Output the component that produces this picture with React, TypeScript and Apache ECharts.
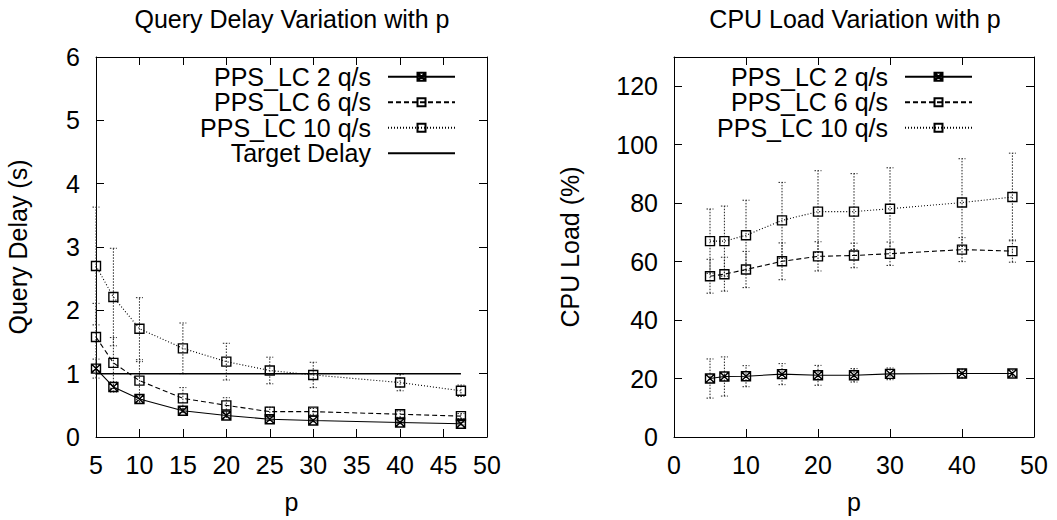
import React, { useEffect, useRef } from "react";
import * as echarts from "echarts";

const pValues = [5, 7, 10, 15, 20, 25, 30, 40, 47];

const delay2 = [1.08, 0.79, 0.6, 0.415, 0.34, 0.28, 0.26, 0.23, 0.21];
const delay2Err = [0.15, 0.08, 0.05, 0.03, 0.03, 0.02, 0.02, 0.02, 0.02];
const delay6 = [1.58, 1.17, 0.89, 0.61, 0.5, 0.4, 0.4, 0.36, 0.33];
const delay6Err = [0.53, 0.4, 0.3, 0.17, 0.12, 0.07, 0.05, 0.05, 0.04];
const delay10 = [2.7, 2.21, 1.71, 1.4, 1.19, 1.05, 0.98, 0.86, 0.73];
const delay10Err = [0.93, 0.77, 0.49, 0.4, 0.29, 0.21, 0.2, 0.13, 0.09];
const targetDelay = [
  [5, 1],
  [47, 1],
];

const cpu2 = [20.0, 20.7, 20.8, 21.5, 21.1, 21.1, 21.6, 21.7, 21.7];
const cpu2Err = [6.7, 6.7, 3.6, 3.6, 3.4, 2.3, 2.0, 1.5, 1.0];
const cpu6 = [55.0, 55.7, 57.3, 60.1, 61.8, 62.1, 62.7, 64.1, 63.6];
const cpu6Err = [5.8, 5.8, 6.2, 6.3, 5.0, 4.2, 4.0, 4.1, 3.8];
const cpu10 = [67, 67, 69, 74.1, 77.1, 77.1, 78.1, 80.2, 82.1];
const cpu10Err = [11, 12, 12, 13, 14, 13, 14, 15, 15];

const names = ["PPS_LC 2 q/s", "PPS_LC 6 q/s", "PPS_LC 10 q/s", "Target Delay"];

const FONT = "'Liberation Sans', Arial, Helvetica, sans-serif";
const FS = 25;

const pts = (ys: number[]) => pValues.map((x, i) => [x, ys[i]]);
const errs = (ys: number[], es: number[]) => pValues.map((x, i) => [x, ys[i] - es[i], ys[i] + es[i]]);

const squareX = "path://M0 0H10V10H0Z M0 0L10 10 M10 0L0 10";

function errSeries(data: number[][], xi: number, yi: number, name: string) {
  return {
    type: "custom",
    name,
    xAxisIndex: xi,
    yAxisIndex: yi,
    encode: { x: 0, y: [1, 2] },
    z: 1,
    silent: true,
    data,
    renderItem: (params: any, api: any) => {
      const x = api.value(0);
      const lo = api.coord([x, api.value(1)]);
      const hi = api.coord([x, api.value(2)]);
      const cap = 3.5;
      const style = { stroke: "#222", lineWidth: 1, lineDash: [1.5, 1.5], fill: "none" };
      return {
        type: "group",
        children: [
          { type: "line", shape: { x1: lo[0], y1: lo[1], x2: hi[0], y2: hi[1] }, style },
          { type: "line", shape: { x1: lo[0] - cap, y1: lo[1], x2: lo[0] + cap, y2: lo[1] }, style },
          { type: "line", shape: { x1: hi[0] - cap, y1: hi[1], x2: hi[0] + cap, y2: hi[1] }, style },
        ],
      };
    },
  };
}

function lineSeries(name: string, data: number[][], xi: number, yi: number, dash: any, symbol: string) {
  return {
    type: "line",
    name,
    xAxisIndex: xi,
    yAxisIndex: yi,
    data,
    z: 3,
    symbol,
    symbolSize: 9,
    lineStyle: { color: "#000", width: 1.1, type: dash },
    itemStyle: { color: "rgba(0,0,0,0)", borderColor: "#000", borderWidth: 1.4 },
  };
}

const tickStyle = { show: true, inside: true, length: 8, lineStyle: { color: "#000", width: 1 } };
const lineAxis = { show: true, onZero: false, lineStyle: { color: "#000", width: 1 } };
const labelStyle = { color: "#000", fontSize: FS, fontFamily: FONT };

function xAxes(gi: number, min: number, max: number, interval: number) {
  return [
    {
      type: "value",
      gridIndex: gi,
      min,
      max,
      interval,
      position: "bottom",
      axisLine: lineAxis,
      axisTick: tickStyle,
      splitLine: { show: false },
      axisLabel: { ...labelStyle, margin: 15 },
      name: "p",
      nameLocation: "middle",
      nameGap: 52,
      nameTextStyle: { color: "#000", fontSize: FS, fontFamily: FONT },
    },
    {
      type: "value",
      gridIndex: gi,
      min,
      max,
      interval,
      position: "top",
      axisLine: lineAxis,
      axisTick: tickStyle,
      splitLine: { show: false },
      axisLabel: { show: false },
    },
  ];
}

function yAxes(gi: number, min: number, max: number, interval: number, name: string, nameGap: number) {
  return [
    {
      type: "value",
      gridIndex: gi,
      min,
      max,
      interval,
      position: "left",
      axisLine: lineAxis,
      axisTick: tickStyle,
      splitLine: { show: false },
      axisLabel: { ...labelStyle, margin: 16, showMaxLabel: max % interval === 0 },
      name,
      nameLocation: "middle",
      nameGap,
      nameRotate: 90,
      nameTextStyle: { color: "#000", fontSize: FS, fontFamily: FONT },
    },
    {
      type: "value",
      gridIndex: gi,
      min,
      max,
      interval,
      position: "right",
      axisLine: lineAxis,
      axisTick: tickStyle,
      splitLine: { show: false },
      axisLabel: { show: false },
    },
  ];
}

function legendCfg(right: number, data: string[]) {
  return {
    orient: "vertical",
    align: "right",
    right,
    top: 64,
    padding: 0,
    itemGap: 0,
    itemWidth: 67,
    itemHeight: 10,
    selectedMode: false,
    data,
    textStyle: { color: "#000", fontSize: FS, fontFamily: FONT, lineHeight: 25.5, padding: [0, 12, 0, 0] },
  };
}

export default function App() {
  const ref = useRef<HTMLDivElement>(null);
  useEffect(() => {
    if (!ref.current) return;
    const chart = echarts.init(ref.current, null, { renderer: "svg" });
    chart.setOption({
      animation: false,
      backgroundColor: "#fff",
      title: [
        {
          text: "Query Delay Variation with p",
          left: 292,
          top: 6,
          padding: 0,
          textAlign: "center",
          textStyle: { color: "#000", fontSize: FS, fontWeight: "normal", fontFamily: FONT },
        },
        {
          text: "CPU Load Variation with p",
          left: 855,
          top: 6,
          padding: 0,
          textAlign: "center",
          textStyle: { color: "#000", fontSize: FS, fontWeight: "normal", fontFamily: FONT },
        },
      ],
      legend: [legendCfg(601, names), legendCfg(84, names.slice(0, 3))],
      grid: [
        { left: 96, right: 570, top: 57, bottom: 83, show: false },
        { left: 674, right: 23, top: 57, bottom: 83, show: false },
      ],
      xAxis: [...xAxes(0, 5, 50, 5), ...xAxes(1, 0, 50, 10)],
      yAxis: [...yAxes(0, 0, 6, 1, "Query Delay (s)", 66), ...yAxes(1, 0, 130, 20, "CPU Load (%)", 92)],
      series: [
        errSeries(errs(delay2, delay2Err), 0, 0, "e1"),
        errSeries(errs(delay6, delay6Err), 0, 0, "e2"),
        errSeries(errs(delay10, delay10Err), 0, 0, "e3"),
        lineSeries(names[0], pts(delay2), 0, 0, "solid", squareX),
        lineSeries(names[1], pts(delay6), 0, 0, [5, 3], "rect"),
        lineSeries(names[2], pts(delay10), 0, 0, [1, 2], "rect"),
        {
          type: "line",
          name: names[3],
          xAxisIndex: 0,
          yAxisIndex: 0,
          data: targetDelay,
          symbol: "none",
          z: 2,
          lineStyle: { color: "#000", width: 1.5 },
          itemStyle: { color: "rgba(0,0,0,0)", borderWidth: 0, opacity: 0 },
        },
        errSeries(errs(cpu2, cpu2Err), 2, 2, "e4"),
        errSeries(errs(cpu6, cpu6Err), 2, 2, "e5"),
        errSeries(errs(cpu10, cpu10Err), 2, 2, "e6"),
        lineSeries(names[0], pts(cpu2), 2, 2, "solid", squareX),
        lineSeries(names[1], pts(cpu6), 2, 2, [5, 3], "rect"),
        lineSeries(names[2], pts(cpu10), 2, 2, [1, 2], "rect"),
      ],
    });
    return () => chart.dispose();
  }, []);
  return (
    <div
      ref={ref}
      style={{ position: "absolute", left: 0, top: 0, width: 1057, height: 520, background: "#fff" }}
    />
  );
}
